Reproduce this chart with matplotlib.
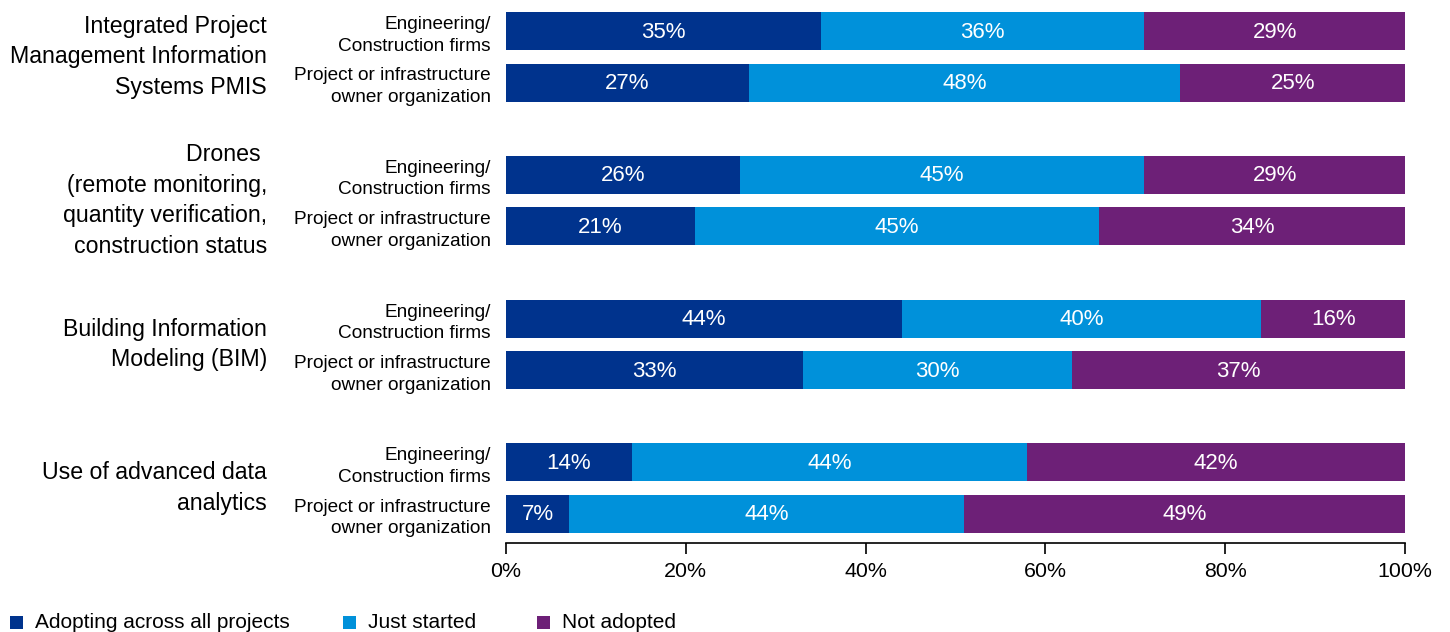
import matplotlib
matplotlib.use("Agg")
import matplotlib.pyplot as plt
import matplotlib.transforms as mtransforms
from matplotlib.patches import Rectangle

plt.rcParams['font.family'] = ['Liberation Sans', 'DejaVu Sans']

categories = [
    "Integrated Project\nManagement Information\nSystems PMIS",
    "Drones \n(remote monitoring,\nquantity verification,\nconstruction status",
    "Building Information\nModeling (BIM)",
    "Use of advanced data\nanalytics",
]
respondents = ["Engineering/\nConstruction firms", "Project or infrastructure\nowner organization"]
series_names = ["Adopting across all projects", "Just started", "Not adopted"]
adopting = [35, 27, 26, 21, 44, 33, 14, 7]
just_started = [36, 48, 45, 45, 40, 30, 44, 44]
not_adopted = [29, 25, 29, 34, 16, 37, 42, 49]
xticks = [0, 20, 40, 60, 80, 100]
colors = ["#00338D", "#0091DA", "#6D2077"]

W, H = 1450, 632
fig = plt.figure(figsize=(W / 100, H / 100), dpi=100)
ax = fig.add_axes([506 / W, 1 - 543 / H, 899 / W, 543 / H])

group_gap = 143.8
inner_gap = 51.5
first = 31
bar_h = 38

ypos = []
for g in range(len(categories)):
    for k in range(len(respondents)):
        ypos.append(first + g * group_gap + k * inner_gap)

series = [adopting, just_started, not_adopted]
lefts = [0] * len(ypos)
for s, vals in enumerate(series):
    ax.barh(ypos, vals, left=lefts, height=bar_h, color=colors[s], edgecolor='none')
    for y, l, v in zip(ypos, lefts, vals):
        ax.text(l + v / 2, y + 1, f"{v}%", ha='center', va='center', color='white', fontsize=16)
    lefts = [a + b for a, b in zip(lefts, vals)]

ax.set_ylim(543, 0)
ax.set_xlim(0, 100)
ax.set_xticks(xticks)
ax.set_xticklabels([f"{t}%" for t in xticks], fontsize=15.4)
ax.tick_params(axis='x', length=8, width=1.2, pad=6, color='black')
ax.set_yticks(ypos)
ax.set_yticklabels(respondents * len(categories), fontsize=13.7, linespacing=1.35)
ax.tick_params(axis='y', length=0, pad=11)
for sp in ['top', 'right', 'left']:
    ax.spines[sp].set_visible(False)
ax.spines['bottom'].set_linewidth(1.2)

trans = mtransforms.blended_transform_factory(fig.transFigure, ax.transData)
for g, cat in enumerate(categories):
    yc = first + g * group_gap + inner_gap / 2
    ax.text(267 / W, yc, cat, transform=trans, ha='right', va='center', fontsize=16.7, linespacing=1.42)

# legend
leg_x = [10, 343, 537]
for x, name, c in zip(leg_x, series_names, colors):
    fig.patches.append(Rectangle((x / W, 1 - 629 / H), 13 / W, 13 / H, transform=fig.transFigure,
                                 facecolor=c, edgecolor='none'))
    fig.text((x + 25) / W, 1 - 622 / H, name, ha='left', va='center', fontsize=15)

fig.savefig("out.png", dpi=100)
